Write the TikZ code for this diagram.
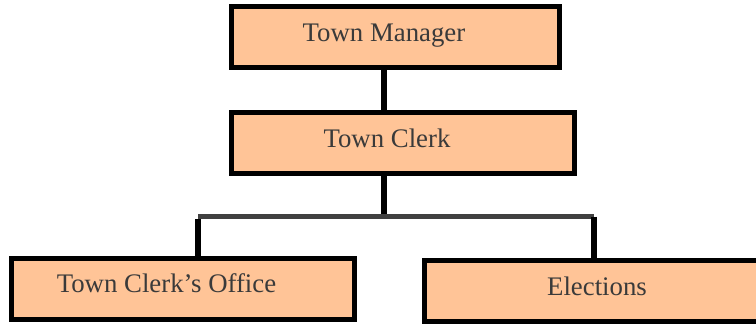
\documentclass[tikz,border=0pt]{standalone}
\usepackage{fontspec}
\setmainfont{Liberation Serif}
\definecolor{boxfill}{RGB}{255,196,151}
\definecolor{txt}{RGB}{58,58,58}
\definecolor{bar}{RGB}{64,64,64}
\tikzset{
  orgbox/.style={draw=black, line width=5pt, fill=boxfill, rectangle, inner sep=0pt, outer sep=2.5pt},
  lbl/.style={anchor=base, text=txt, inner sep=0pt, font=\fontsize{26.8}{30}\selectfont},
  conn/.style={draw=black, line width=5.5pt},
  hbar/.style={draw=bar, line width=5pt}
}
\begin{document}
\begin{tikzpicture}[x=1pt, y=-1pt]
\useasboundingbox (0,0) rectangle (756,324);
\clip (0,0) rectangle (756,324);
\node[orgbox, minimum width=328pt, minimum height=61pt] (tm) at (395.5,37) {};
\node[orgbox, minimum width=343pt, minimum height=61pt] (tc) at (403,143) {};
\node[orgbox, minimum width=343pt, minimum height=61pt] (tco) at (183,289) {};
\node[orgbox, minimum width=343pt, minimum height=61pt] (el) at (596,291) {};
\node[lbl] (tmt) at (384,41.7) {Town Manager};
\node[lbl] (tct) at (387,147) {Town Clerk};
\node[lbl] (tcot) at (166.5,292) {Town Clerk’s Office};
\node[lbl] (elt) at (597,295) {Elections};
\coordinate (bl) at (198,216.5);
\coordinate (bm) at (384,216.5);
\coordinate (br) at (594,216.5);
\draw[conn] (tm.south -| bm) -- (tc.north -| bm);
\draw[conn] (tc.south -| bm) -- (bm);
\draw[hbar] (bl) -- (br);
\draw[conn] ([yshift=-2.5pt]bl) -- (tco.north -| bl);
\draw[conn] (br) -- (el.north -| br);
\end{tikzpicture}
\end{document}
